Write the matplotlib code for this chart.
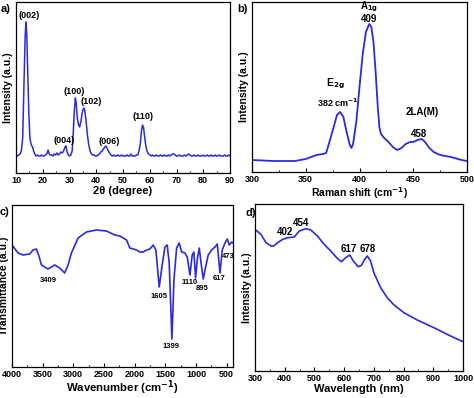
import matplotlib
matplotlib.use("Agg")
import matplotlib.pyplot as plt
from matplotlib.ticker import MultipleLocator

plt.rcParams['font.family'] = ['Liberation Sans', 'DejaVu Sans']
plt.rcParams['font.weight'] = 'bold'

BLUE = '#2a2ae0'

# ---- a) XRD ----
xrd_2theta = [10.0, 10.5, 11.0, 11.5, 12.0, 12.5, 13.0, 13.4, 13.7, 14.0, 14.4, 14.8, 15.2, 15.7,
              16.2, 16.6, 17.0, 17.5, 18.0, 18.5, 19.0, 19.5, 20.0, 20.5, 21.0, 21.5, 22.0, 22.4,
              22.8, 23.3, 23.8, 24.3, 24.8, 25.3, 25.8, 26.3, 26.8, 27.3, 27.8, 28.3, 28.7, 29.1,
              29.6, 30.0, 30.5, 31.0, 31.4, 31.8, 32.2, 32.5, 32.9, 33.4, 33.8, 34.3, 34.8, 35.3,
              35.7, 36.2, 36.7, 37.2, 37.7, 38.2, 38.7, 39.2, 39.7, 40.2, 40.7, 41.2, 41.7, 42.2,
              42.7, 43.2, 43.6, 44.0, 44.5, 45.0, 45.5, 46.0, 46.5, 47.0, 47.5, 48.0, 48.5, 49.0,
              49.5, 50.0, 50.5, 51.0, 51.5, 52.0, 52.5, 53.0, 53.5, 54.0, 54.5, 55.0, 55.5, 56.0,
              56.5, 56.9, 57.3, 57.7, 58.1, 58.6, 59.1, 59.6, 60.1, 60.6, 61.0, 61.5, 62.0, 62.5,
              63.0, 63.5, 64.0, 64.5, 65.0, 65.5, 66.0, 66.5, 67.0, 67.5, 68.0, 68.5, 69.0, 69.5,
              70.0, 70.5, 71.0, 71.5, 72.0, 72.5, 73.0, 73.5, 74.0, 74.5, 75.0, 75.5, 76.0, 76.5,
              77.0, 77.5, 78.0, 78.5, 79.0, 79.5, 80.0, 80.5, 81.0, 81.5, 82.0, 82.5, 83.0, 83.5,
              84.0, 84.5, 85.0, 85.5, 86.0, 86.5, 87.0, 87.5, 88.0, 88.5, 89.0, 89.5, 90.0]
xrd_int = [18, 17, 18, 19, 22, 35, 90, 135, 151, 140, 100, 60, 35, 28,
           26, 22, 19, 17, 18, 17, 17, 18, 17, 17, 18, 19, 23, 19,
           18, 18, 17, 19, 18, 20, 18, 19, 21, 20, 22, 26, 27, 21,
           18, 17, 18, 22, 40, 62, 75, 70, 55, 48, 46, 52, 61, 65,
           63, 52, 38, 28, 22, 19, 18, 18, 17, 17, 18, 19, 21, 22,
           24, 26, 27, 25, 22, 20, 18, 17, 18, 17, 17, 18, 17, 17,
           18, 17, 17, 17, 18, 17, 17, 19, 17, 17, 17, 18, 18, 22,
           30, 42, 48, 45, 36, 26, 21, 19, 18, 17, 18, 17, 17, 18,
           17, 17, 18, 17, 17, 18, 17, 17, 18, 17, 18, 19, 19, 18,
           17, 17, 18, 17, 17, 17, 18, 17, 18, 19, 18, 17, 17, 18,
           17, 17, 18, 17, 17, 17, 18, 17, 17, 18, 17, 17, 18, 17,
           17, 18, 17, 17, 18, 17, 17, 17, 18, 17, 17, 18, 17]
xrd_labels = ['(002)', '(004)', '(100)', '(102)', '(006)', '(110)']
xrd_label_pos = [(14.8, 158), (28.0, 33), (31.6, 82), (38.0, 72), (44.8, 32), (57.4, 57)]

# ---- b) Raman ----
raman_shift = [300, 320, 340, 350, 360, 366, 369, 372, 376, 379, 382, 385, 388, 391, 392.5,
               394, 397, 400, 403, 406, 409, 411, 413, 415, 417, 418.5, 420, 423, 427, 431,
               435, 439, 443, 447, 450, 454, 458, 461, 465, 469, 475, 485, 495, 500]
raman_int = [12, 11, 11, 13, 17, 18, 19, 30, 45, 57, 60, 55, 40, 27, 24,
             28, 50, 85, 118, 140, 148, 145, 130, 100, 65, 45, 38, 34, 30, 25,
             22, 24, 28, 30, 30, 32, 33, 30, 24, 20, 17, 15, 12, 11]

# ---- c) FTIR ----
ftir_wn = [4000, 3902, 3820, 3711, 3657, 3603, 3560, 3521, 3412, 3303, 3222, 3140, 3086, 3031,
           2922, 2786, 2623, 2460, 2324, 2242, 2133, 2079, 1970, 1915, 1861, 1806, 1752, 1698,
           1654, 1600, 1556, 1507, 1470, 1437, 1393, 1360, 1316, 1274, 1235, 1181, 1143, 1099,
           1062, 1034, 1007, 980, 947, 909, 882, 843, 801, 746, 691, 653, 609, 572, 528, 490,
           458, 419, 400]
ftir_t = [122, 114, 112, 113, 117, 118, 111, 102, 98, 102, 99, 94, 102, 114,
          129, 135, 137, 136, 132, 131, 127, 119, 117, 115, 115, 117, 118, 122,
          117, 80, 100, 120, 122, 104, 28, 87, 119, 124, 115, 114, 110, 92,
          112, 115, 89, 107, 119, 100, 88, 100, 112, 117, 120, 123, 94, 117, 124, 128,
          122, 125, 124]
ftir_labels = ['3409', '1605', '1399', '1110', '895', '617', '473']
ftir_label_pos = [(3409, 86), (1605, 71), (1399, 21), (1110, 85), (895, 79), (617, 88), (473, 111)]

# ---- d) PL / UV ----
wavelength = [300, 320, 337, 354, 363, 376, 393, 410, 432, 449, 471, 488, 510, 533, 555,
              577, 591, 605, 619, 631, 647, 658, 669, 678, 689, 700, 723, 745, 768, 801,
              846, 902, 958, 1000]
pl_int = [141.6, 136.6, 128.3, 125, 125, 128.3, 131.6, 133.3, 134, 140, 142.3, 141, 135, 126.6, 120,
          112.6, 109.3, 113.3, 116, 110, 104.3, 105.6, 111.6, 115, 110, 98.3, 83.3, 73.3, 66, 58.3,
          51, 43.3, 35, 29.3]
pl_labels = ['402', '454', '617', '678']
pl_label_pos = [(402, 139), (454, 148), (617, 122), (678, 122)]

W, H = 474, 398
fig = plt.figure(figsize=(W / 100, H / 100), dpi=100)


def box(l, t, r, b):
    return [l / W, 1 - b / H, (r - l) / W, (b - t) / H]


def style(ax):
    ax.tick_params(axis='x', which='both', direction='in', labelsize=6.5, pad=2)
    ax.tick_params(axis='x', which='major', length=3, width=0.8)
    ax.tick_params(axis='x', which='minor', length=1.8, width=0.6)
    ax.tick_params(axis='y', left=False, labelleft=False)
    for lab in ax.get_xticklabels():
        lab.set_fontweight('bold')
    for s in ax.spines.values():
        s.set_linewidth(0.9)


# a
axa = fig.add_axes(box(16, 2, 230, 173))
axa.plot(xrd_2theta, xrd_int, color=BLUE, lw=1.1)
axa.set_xlim(10, 90)
axa.set_ylim(0, 171)
axa.xaxis.set_major_locator(MultipleLocator(10))
axa.xaxis.set_minor_locator(MultipleLocator(5))
style(axa)
axa.set_xlabel('2θ (degree)', fontsize=8, fontweight='bold', labelpad=1)
axa.set_ylabel('Intensity (a.u.)', fontsize=7.5, fontweight='bold', labelpad=2)
for t, (x, y) in zip(xrd_labels, xrd_label_pos):
    axa.text(x, y, t, fontsize=6.5, fontweight='bold', ha='center', va='center')
fig.text(1 / W, 1 - 9 / H, 'a)', fontsize=8, fontweight='bold', va='center')

# b
axb = fig.add_axes(box(252, 2, 467, 172))
axb.plot(raman_shift, raman_int, color=BLUE, lw=1.3)
axb.set_xlim(300, 500)
axb.set_ylim(0, 170)
axb.xaxis.set_major_locator(MultipleLocator(50))
axb.xaxis.set_minor_locator(MultipleLocator(25))
style(axb)
axb.set_xlabel('Raman shift (cm$^{\\mathbf{-1}}$)', fontsize=7.5, fontweight='bold', labelpad=1)
axb.set_ylabel('Intensity (a.u.)', fontsize=7.5, fontweight='bold', labelpad=2)
axb.text(409, 165.5, 'A$_{\\mathbf{1g}}$', fontsize=7, fontweight='bold', ha='center', va='center')
axb.text(409, 153, '409', fontsize=7, fontweight='bold', ha='center', va='center')
axb.text(378, 88, 'E$_{\\mathbf{2g}}$', fontsize=7.5, fontweight='bold', ha='center', va='center')
axb.text(380, 69, '382 cm$^{\\mathbf{-1}}$', fontsize=6.5, fontweight='bold', ha='center', va='center')
axb.text(458, 60, '2LA(M)', fontsize=7, fontweight='bold', ha='center', va='center')
axb.text(455, 38, '458', fontsize=7, fontweight='bold', ha='center', va='center')
fig.text(237 / W, 1 - 9 / H, 'b)', fontsize=8, fontweight='bold', va='center')

# c
axc = fig.add_axes(box(12, 205, 233, 367))
axc.plot(ftir_wn, ftir_t, color=BLUE, lw=1.2)
axc.set_xlim(4000, 397)
axc.set_ylim(0, 162)
axc.xaxis.set_major_locator(MultipleLocator(500))
axc.xaxis.set_minor_locator(MultipleLocator(250))
style(axc)
axc.set_xlabel('Wavenumber (cm$^{\\mathbf{-1}}$)', fontsize=8.2, fontweight='bold', labelpad=0)
axc.set_ylabel('Transmittance (a.u.)', fontsize=7.5, fontweight='bold', labelpad=2)
for t, (x, y) in zip(ftir_labels, ftir_label_pos):
    axc.text(x, y, t, fontsize=5.5, fontweight='bold', ha='center', va='center')
fig.text(0 / W, 1 - 212 / H, 'c)', fontsize=8, fontweight='bold', va='center')

# d
axd = fig.add_axes(box(255, 204, 463, 371))
axd.plot(wavelength, pl_int, color=BLUE, lw=1.2)
axd.set_xlim(300, 1000)
axd.set_ylim(0, 167)
axd.xaxis.set_major_locator(MultipleLocator(100))
axd.xaxis.set_minor_locator(MultipleLocator(50))
style(axd)
axd.set_xlabel('Wavelength (nm)', fontsize=8, fontweight='bold', labelpad=1)
axd.set_ylabel('Intensity (a.u.)', fontsize=7.5, fontweight='bold', labelpad=2)
for t, (x, y) in zip(pl_labels, pl_label_pos):
    axd.text(x, y, t, fontsize=7, fontweight='bold', ha='center', va='center')
fig.text(245 / W, 1 - 213 / H, 'd)', fontsize=8, fontweight='bold', va='center')

fig.savefig('out.png', dpi=100)
